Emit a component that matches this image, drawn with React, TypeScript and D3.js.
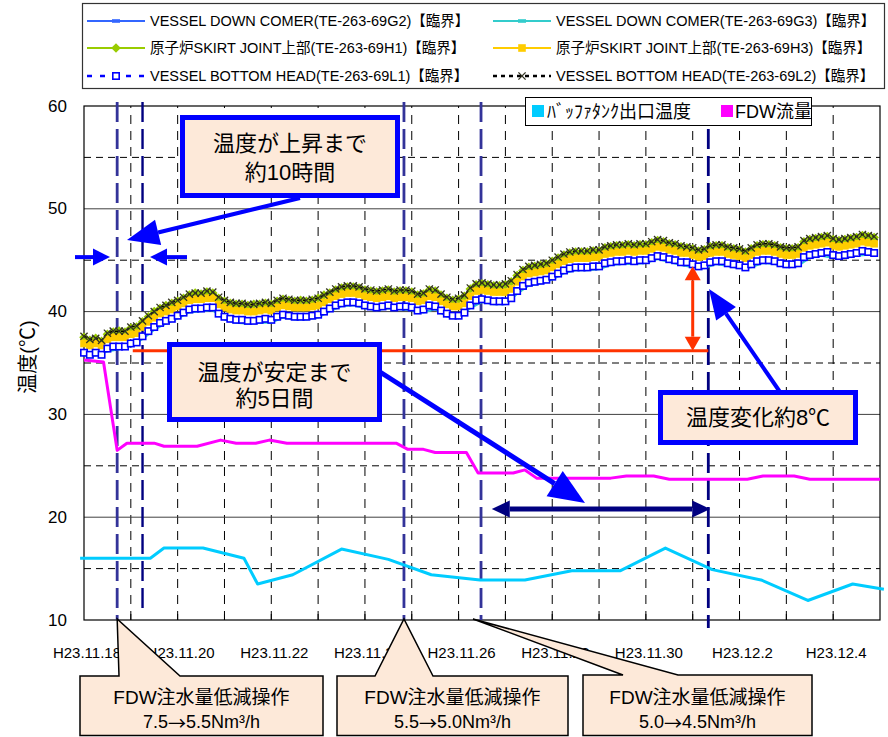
import React from "react";
import * as d3 from "d3";

const parse = d3.timeParse("%Y-%m-%d %H:%M");

// ---------- axes ----------
const X_START = "2011-11-18 00:00";
const X_END = "2011-12-05 00:00";
const Y_MIN = 10;
const Y_MAX = 60;
const yMajorTicks = [10, 20, 30, 40, 50, 60];
const yMinorTicks = [15, 25, 35, 45, 55];
const xTickDates = ["2011-11-18 00:00", "2011-11-20 00:00", "2011-11-22 00:00", "2011-11-24 00:00", "2011-11-26 00:00", "2011-11-28 00:00", "2011-11-30 00:00", "2011-12-02 00:00", "2011-12-04 00:00"];
const xTickLabels = ["H23.11.18", "H23.11.20", "H23.11.22", "H23.11.24", "H23.11.26", "H23.11.28", "H23.11.30", "H23.12.2", "H23.12.4"];
const yTitle = "温度(℃)";

// ---------- dense temperature series (every 3 hours from 11/18 0:00) ----------
const SERIES_START = "2011-11-18 00:00";
const L1 = [
  36.0, 35.8, 36.0, 35.8, 36.4, 36.6, 36.6, 36.6,
  36.9, 37.0, 37.6, 38.1, 38.5, 38.9, 39.1, 39.3,
  39.6, 39.9, 40.2, 40.3, 40.3, 40.4, 40.4, 39.8,
  39.5, 39.3, 39.2, 39.2, 39.1, 39.1, 39.2, 39.3,
  39.2, 39.5, 39.7, 39.6, 39.5, 39.5, 39.5, 39.6,
  39.7, 40.0, 40.3, 40.6, 40.8, 40.9, 40.9, 40.8,
  40.6, 40.5, 40.4, 40.5, 40.6, 40.4, 40.5, 40.5,
  40.4, 40.1, 40.2, 40.6, 40.5, 40.1, 39.8, 39.6,
  39.6, 39.9, 40.6, 41.1, 41.2, 41.1, 41.0, 41.0,
  41.0, 41.3, 42.0, 42.5, 42.8, 42.9, 43.0, 43.1,
  43.4, 43.7, 44.0, 44.2, 44.3, 44.3, 44.3, 44.4,
  44.4, 44.7, 44.8, 44.9, 44.9, 45.0, 44.9, 45.0,
  45.0, 45.2, 45.4, 45.3, 45.1, 45.0, 44.8, 44.8,
  44.6, 44.4, 44.5, 44.8, 44.9, 44.9, 44.7, 44.6,
  44.5, 44.3, 44.6, 44.9, 45.0, 45.0, 44.9, 44.7,
  44.6, 44.6, 44.7, 45.3, 45.5, 45.6, 45.7, 45.8,
  45.5, 45.4, 45.5, 45.6, 45.7, 45.9, 45.8, 45.7,
];
const H1 = [
  37.5, 37.2, 37.4, 37.1, 37.8, 38.0, 38.1, 38.0,
  38.4, 38.5, 39.0, 39.5, 40.0, 40.3, 40.6, 40.8,
  41.0, 41.3, 41.6, 41.8, 41.7, 41.9, 41.8, 41.3,
  41.0, 40.8, 40.7, 40.7, 40.6, 40.7, 40.7, 40.8,
  40.7, 41.0, 41.2, 41.1, 41.0, 41.1, 41.0, 41.1,
  41.3, 41.6, 41.8, 42.1, 42.3, 42.4, 42.4, 42.3,
  42.1, 42.0, 41.9, 42.0, 42.1, 41.9, 42.0, 42.0,
  41.9, 41.6, 41.7, 42.1, 42.0, 41.6, 41.3, 41.1,
  41.2, 41.5, 42.2, 42.6, 42.7, 42.6, 42.5, 42.5,
  42.6, 42.9, 43.5, 44.0, 44.3, 44.4, 44.5, 44.6,
  44.9, 45.2, 45.5, 45.7, 45.8, 45.8, 45.8, 45.9,
  45.9, 46.2, 46.3, 46.4, 46.4, 46.5, 46.4, 46.5,
  46.5, 46.7, 46.9, 46.8, 46.6, 46.5, 46.3, 46.2,
  46.1, 45.9, 46.0, 46.3, 46.4, 46.4, 46.2, 46.1,
  46.0, 45.8, 46.1, 46.4, 46.5, 46.5, 46.4, 46.2,
  46.1, 46.1, 46.2, 46.8, 47.0, 47.1, 47.2, 47.3,
  47.0, 46.9, 47.0, 47.1, 47.2, 47.4, 47.3, 47.2,
];
const L2 = [
  37.6, 37.3, 37.4, 37.2, 37.9, 38.1, 38.1, 38.1,
  38.5, 38.6, 39.1, 39.6, 40.0, 40.4, 40.6, 40.9,
  41.1, 41.4, 41.7, 41.8, 41.8, 42.0, 41.9, 41.4,
  41.1, 40.9, 40.8, 40.8, 40.7, 40.7, 40.8, 40.9,
  40.8, 41.1, 41.3, 41.2, 41.1, 41.1, 41.1, 41.2,
  41.3, 41.6, 41.9, 42.2, 42.4, 42.5, 42.5, 42.4,
  42.2, 42.1, 42.0, 42.1, 42.2, 42.0, 42.1, 42.1,
  42.0, 41.7, 41.8, 42.2, 42.1, 41.7, 41.4, 41.2,
  41.3, 41.6, 42.3, 42.7, 42.8, 42.7, 42.6, 42.6,
  42.7, 43.0, 43.6, 44.1, 44.4, 44.5, 44.6, 44.7,
  45.0, 45.3, 45.6, 45.8, 45.9, 45.9, 45.9, 46.0,
  46.0, 46.3, 46.4, 46.5, 46.5, 46.6, 46.5, 46.6,
  46.6, 46.8, 47.0, 46.9, 46.7, 46.6, 46.4, 46.3,
  46.2, 46.0, 46.1, 46.4, 46.5, 46.5, 46.3, 46.2,
  46.1, 45.9, 46.2, 46.5, 46.6, 46.6, 46.5, 46.3,
  46.2, 46.2, 46.3, 46.9, 47.1, 47.2, 47.3, 47.4,
  47.1, 47.0, 47.1, 47.2, 47.3, 47.5, 47.4, 47.3,
];
const H3 = [
  36.9, 36.7, 36.9, 36.7, 37.3, 37.5, 37.5, 37.5,
  37.8, 37.9, 38.5, 39.0, 39.4, 39.8, 40.0, 40.2,
  40.5, 40.8, 41.1, 41.2, 41.2, 41.3, 41.3, 40.7,
  40.4, 40.2, 40.1, 40.1, 40.0, 40.0, 40.1, 40.2,
  40.1, 40.4, 40.6, 40.5, 40.4, 40.4, 40.4, 40.5,
  40.6, 40.9, 41.2, 41.5, 41.7, 41.8, 41.8, 41.7,
  41.5, 41.4, 41.3, 41.4, 41.5, 41.3, 41.4, 41.4,
  41.3, 41.0, 41.1, 41.5, 41.4, 41.0, 40.7, 40.5,
  40.5, 40.8, 41.5, 42.0, 42.1, 42.0, 41.9, 41.9,
  41.9, 42.2, 42.9, 43.4, 43.7, 43.8, 43.9, 44.0,
  44.3, 44.6, 44.9, 45.1, 45.2, 45.2, 45.2, 45.3,
  45.3, 45.6, 45.7, 45.8, 45.8, 45.9, 45.8, 45.9,
  45.9, 46.1, 46.3, 46.2, 46.0, 45.9, 45.7, 45.7,
  45.5, 45.3, 45.4, 45.7, 45.8, 45.8, 45.6, 45.5,
  45.4, 45.2, 45.5, 45.8, 45.9, 45.9, 45.8, 45.6,
  45.5, 45.5, 45.6, 46.2, 46.4, 46.5, 46.6, 46.7,
  46.4, 46.3, 46.4, 46.5, 46.6, 46.8, 46.7, 46.6,
];
// every 6 hours from 11/18 0:00
const G3 = [
  35.7, 35.7, 36.1, 36.3, 36.6, 37.3, 38.2, 38.8,
  39.3, 39.9, 40.0, 40.1, 39.2, 38.9, 38.8, 38.9,
  38.9, 39.4, 39.2, 39.2, 39.4, 40.0, 40.5, 40.6,
  40.3, 40.1, 40.3, 40.2, 40.1, 39.9, 40.2, 39.5,
  39.3, 40.3, 40.9, 40.7, 40.7, 41.7, 42.5, 42.7,
  43.1, 43.7, 44.0, 44.0, 44.1, 44.5, 44.6, 44.6,
  44.7, 45.1, 44.8, 44.5, 44.3, 44.2, 44.6, 44.4,
  44.2, 44.3, 44.7, 44.6, 44.3, 44.4, 45.2, 45.4,
  45.2, 45.2, 45.4, 45.5,
];
const G2 = [
  35.8, 35.8, 36.2, 36.4, 36.7, 37.4, 38.3, 38.9,
  39.4, 40.0, 40.1, 40.2, 39.3, 39.0, 38.9, 39.0,
  39.0, 39.5, 39.3, 39.3, 39.5, 40.1, 40.6, 40.7,
  40.4, 40.2, 40.4, 40.3, 40.2, 40.0, 40.3, 39.6,
  39.4, 40.4, 41.0, 40.8, 40.8, 41.8, 42.6, 42.8,
  43.2, 43.8, 44.1, 44.1, 44.2, 44.6, 44.7, 44.7,
  44.8, 45.2, 44.9, 44.6, 44.4, 44.3, 44.7, 44.5,
  44.3, 44.4, 44.8, 44.7, 44.4, 44.5, 45.3, 45.5,
  45.3, 45.3, 45.5, 45.6,
];

// ---------- buffer tank outlet temperature ----------
const bufTimes = ["2011-11-17 22:00", "2011-11-19 10:00", "2011-11-19 17:00", "2011-11-20 13:00", "2011-11-21 10:00", "2011-11-21 17:00", "2011-11-22 11:00", "2011-11-23 12:00", "2011-11-24 12:00", "2011-11-25 10:00", "2011-11-26 11:00", "2011-11-27 10:00", "2011-11-28 10:00", "2011-11-29 11:00", "2011-11-30 10:00", "2011-12-01 10:00", "2011-12-02 11:00", "2011-12-03 11:00", "2011-12-04 10:00", "2011-12-05 02:00"];
const bufValues = [16.0, 16.0, 17.0, 17.0, 16.0, 13.5, 14.4, 16.9, 15.9, 14.4, 13.9, 13.9, 14.8, 14.8, 17.0, 14.9, 13.9, 11.9, 13.5, 13.0];

// ---------- FDW flow ----------
const fdwTimes = ["2011-11-18 00:00", "2011-11-18 10:00", "2011-11-18 17:00", "2011-11-18 22:00", "2011-11-19 12:00", "2011-11-19 17:00", "2011-11-20 10:00", "2011-11-20 22:00", "2011-11-21 06:00", "2011-11-21 16:00", "2011-11-21 23:00", "2011-11-22 08:00", "2011-11-24 16:00", "2011-11-24 22:00", "2011-11-25 06:00", "2011-11-25 12:00", "2011-11-26 04:00", "2011-11-26 10:00", "2011-11-27 04:00", "2011-11-27 10:00", "2011-11-27 16:00", "2011-11-29 06:00", "2011-11-29 14:00", "2011-11-30 04:00", "2011-11-30 12:00", "2011-12-02 04:00", "2011-12-02 12:00", "2011-12-03 04:00", "2011-12-03 12:00", "2011-12-05 00:00"];
const fdwValues = [35.3, 35.1, 26.5, 27.2, 27.2, 26.9, 26.9, 27.5, 27.2, 27.2, 27.5, 27.2, 27.2, 26.6, 26.6, 26.3, 26.3, 24.3, 24.3, 24.6, 23.8, 23.8, 24.0, 24.0, 23.7, 23.7, 24.0, 24.0, 23.7, 23.7];

// ---------- legends & annotations ----------
const legendNames = [
  "VESSEL DOWN COMER(TE-263-69G2)【臨界】",
  "VESSEL DOWN COMER(TE-263-69G3)【臨界】",
  "原子炉SKIRT JOINT上部(TE-263-69H1)【臨界】",
  "原子炉SKIRT JOINT上部(TE-263-69H3)【臨界】",
  "VESSEL BOTTOM HEAD(TE-263-69L1)【臨界】",
  "VESSEL BOTTOM HEAD(TE-263-69L2)【臨界】",
];
const legend2Names = ["ﾊﾞｯﾌｧﾀﾝｸ出口温度", "FDW流量"];
const eventTimes = ["2011-11-18 17:00", "2011-11-19 06:00", "2011-11-24 20:00", "2011-11-26 11:30", "2011-12-01 08:00"];
const redLevel = 36.2;
const redTop = 44.4;
const redStart = "2011-11-19 01:00";
const redArrowTime = "2011-12-01 00:00";
const navyLevel = 20.8;
const navyStart = "2011-11-26 17:00";
const navyEnd = "2011-12-01 09:00";
const riseLevel = 45.3;
const box1Lines = ["温度が上昇まで", "約10時間"];
const box2Lines = ["温度が安定まで", "約5日間"];
const box3Text = "温度変化約8℃";
const opTitle = "FDW注水量低減操作";
const opFrom = ["7.5", "5.5", "5.0"];
const opTo = ["5.5", "5.0", "4.5"];
const opUnit = "Nm³/h";

const FONT = "'Liberation Sans', 'Noto Sans CJK JP', sans-serif";
const CJK = "'Noto Sans CJK JP', sans-serif";

function arrowHead(x1: number, y1: number, x2: number, y2: number, len: number, wid: number) {
  const a = Math.atan2(y2 - y1, x2 - x1);
  const bx = x2 - len * Math.cos(a);
  const by = y2 - len * Math.sin(a);
  const px = (-Math.sin(a) * wid) / 2;
  const py = (Math.cos(a) * wid) / 2;
  return { bx, by, pts: `${x2},${y2} ${bx + px},${by + py} ${bx - px},${by - py}` };
}

function Arrow({ x1, y1, x2, y2, color, sw, len, wid, both = false }: any) {
  const h2 = arrowHead(x1, y1, x2, y2, len, wid);
  const h1 = both ? arrowHead(x2, y2, x1, y1, len, wid) : null;
  const sx = h1 ? h1.bx : x1;
  const sy = h1 ? h1.by : y1;
  return (
    <g>
      <line x1={sx} y1={sy} x2={h2.bx} y2={h2.by} stroke={color} strokeWidth={sw} />
      <polygon points={h2.pts} fill={color} />
      {h1 && <polygon points={h1.pts} fill={color} />}
    </g>
  );
}

function Marker({ kind, x, y }: { kind: string; x: number; y: number }) {
  if (kind === "diamond")
    return <polygon points={`${x},${y - 4.8} ${x + 4.8},${y} ${x},${y + 4.8} ${x - 4.8},${y}`} fill="#99CC00" />;
  if (kind === "gold") return <rect x={x - 3.8} y={y - 3.8} width={7.6} height={7.6} fill="#FFCC00" />;
  if (kind === "white")
    return <rect x={x - 3.2} y={y - 3.2} width={6.4} height={6.4} fill="#fff" stroke="#0000FF" strokeWidth={1.6} />;
  if (kind === "x")
    return (
      <g stroke="#333322" strokeWidth={1.3}>
        <line x1={x - 3.6} y1={y - 3.6} x2={x + 3.6} y2={y + 3.6} />
        <line x1={x - 3.6} y1={y + 3.6} x2={x + 3.6} y2={y - 3.6} />
      </g>
    );
  if (kind === "dash") return <rect x={x - 4} y={y - 1.8} width={8} height={3.6} fill="currentColor" />;
  return null;
}

export default function App() {
  const left = 84, right = 880, top = 106, bottom = 620;
  const x = d3.scaleTime().domain([parse(X_START)!, parse(X_END)!]).range([left, right]);
  const y = d3.scaleLinear().domain([Y_MIN, Y_MAX]).range([bottom, top]);
  const t0 = parse(SERIES_START)!;
  const pts3 = (arr: number[]) => arr.map((v, i) => [d3.timeHour.offset(t0, i * 3), v] as [Date, number]);
  const pts6 = (arr: number[]) => arr.map((v, i) => [d3.timeHour.offset(t0, i * 6), v] as [Date, number]);
  const ptsT = (ts: string[], vs: number[]) => ts.map((t, i) => [parse(t)!, vs[i]] as [Date, number]);
  const line = d3.line<[Date, number]>().x((d) => x(d[0])).y((d) => y(d[1]));

  const days = d3.timeDay.range(d3.timeDay.offset(parse(X_START)!, 1), parse(X_END)!);

  const dense = [
    { data: pts6(G2), color: "#3366FF", dash: undefined, marker: null },
    { data: pts6(G3), color: "#33CCCC", dash: undefined, marker: null },
    { data: pts3(H1), color: "#99CC00", dash: undefined, marker: "diamond" },
    { data: pts3(H3), color: "#FFCC00", dash: undefined, marker: "gold" },
    { data: pts3(L1), color: "#0000FF", dash: "3,3", marker: "white" },
    { data: pts3(L2), color: "#000000", dash: "3,3", marker: "x" },
  ];

  const ev = eventTimes.map((t) => x(parse(t)!));
  const evStyle = [
    { c: "#333399", w: 2.8, y2: bottom },
    { c: "#000080", w: 2.4, y2: 612 },
    { c: "#333399", w: 2.8, y2: bottom },
    { c: "#333399", w: 2.8, y2: bottom },
    { c: "#000080", w: 2.8, y2: 628 },
  ];

  // legend layout
  const legCols = [87, 493];
  const legRows = [21, 48, 76];
  const legSamples = [
    { color: "#3366FF", dash: undefined, marker: "dash" },
    { color: "#33CCCC", dash: undefined, marker: "dash" },
    { color: "#99CC00", dash: undefined, marker: "diamond" },
    { color: "#FFCC00", dash: undefined, marker: "gold" },
    { color: "#0000FF", dash: "5,8", marker: "white" },
    { color: "#000000", dash: "4,4", marker: "x" },
  ];

  const boxFill = "#FDE9D9";
  const opBoxes = [
    { x0: 80, x1: 323, y0: 676, b0: 119, b1: 180, tip: ev[0], tipY: 619 },
    { x0: 337, x1: 568, y0: 676, b0: 375, b1: 433, tip: ev[2], tipY: 619 },
    { x0: 583, x1: 812, y0: 675, b0: 623, b1: 678, tip: ev[3] - 8, tipY: 619 },
  ];
  const yBot = 735.5;

  const y45 = y(riseLevel);

  return (
    <svg width={888} height={737} style={{ position: "absolute", left: 0, top: 0, background: "#fff" }} fontFamily={FONT}>
      <rect x={0} y={0} width={888} height={737} fill="#fff" />

      {/* top legend */}
      <rect x={82.5} y={3.5} width={802} height={85} fill="#fff" stroke="#333" strokeWidth={1.2} />
      {legendNames.map((name, i) => {
        const cx = legCols[i % 2];
        const cy = legRows[Math.floor(i / 2)];
        const s = legSamples[i];
        return (
          <g key={name}>
            <line x1={cx} x2={cx + 58} y1={cy} y2={cy} stroke={s.color} strokeWidth={s.dash ? 2.5 : 1.8} strokeDasharray={s.dash} />
            <g color={s.color}>
              <Marker kind={s.marker} x={cx + 29} y={cy} />
            </g>
            <text x={cx + 63} y={cy} dominantBaseline="central" fontSize={14.5} fill="#000">
              {name}
            </text>
          </g>
        );
      })}

      {/* gridlines */}
      {days.map((d, i) => (
        <line key={"vd" + i} x1={x(d)} x2={x(d)} y1={bottom} y2={top} stroke="#000" strokeWidth={1} strokeDasharray="9,7" />
      ))}
      {yMinorTicks.map((v) => (
        <line key={"hm" + v} x1={left} x2={right} y1={y(v)} y2={y(v)} stroke="#000" strokeWidth={1} strokeDasharray="7,5" />
      ))}
      {yMajorTicks.filter((v) => v !== Y_MIN && v !== Y_MAX).map((v) => (
        <line key={"hM" + v} x1={left} x2={right} y1={y(v)} y2={y(v)} stroke="#404040" strokeWidth={1} />
      ))}
      {days.map((d, i) => (
        <line key={"tk" + i} x1={x(d)} x2={x(d)} y1={bottom} y2={bottom - 6} stroke="#000" strokeWidth={1} />
      ))}
      <rect x={left} y={top} width={right - left} height={bottom - top} fill="none" stroke="#000" strokeWidth={1.2} />

      {/* axis labels */}
      {yMajorTicks.map((v) => (
        <text key={"yl" + v} x={67} y={y(v)} textAnchor="end" dominantBaseline="central" fontSize={17} fill="#000">
          {v}
        </text>
      ))}
      {xTickDates.map((d, i) => (
        <text key={"xl" + i} x={x(parse(d)!) + 3} y={652} textAnchor="middle" dominantBaseline="central" fontSize={15} fill="#000">
          {xTickLabels[i]}
        </text>
      ))}
      <text transform={`translate(28,357) rotate(-90)`} textAnchor="middle" dominantBaseline="central" fontSize={20} fill="#000">
        {yTitle}
      </text>

      {/* event lines */}
      {ev.map((ex, i) => (
        <line key={"ev" + i} x1={ex} x2={ex} y1={top - 4} y2={evStyle[i].y2} stroke={evStyle[i].c} strokeWidth={evStyle[i].w} strokeDasharray="20,7" />
      ))}

      {/* flow and buffer tank lines */}
      <path d={line(ptsT(fdwTimes, fdwValues))!} fill="none" stroke="#FF00FF" strokeWidth={3} strokeLinejoin="round" />
      <path d={line(ptsT(bufTimes, bufValues))!} fill="none" stroke="#00CCFF" strokeWidth={3} strokeLinejoin="round" />

      {/* dense temperature series */}
      {dense.map((s, si) => (
        <g key={"s" + si}>
          <path d={line(s.data)!} fill="none" stroke={s.color} strokeWidth={1.5} strokeDasharray={s.dash} />
          {s.marker && s.data.map((p, i) => <Marker key={i} kind={s.marker as string} x={x(p[0])} y={y(p[1])} />)}
        </g>
      ))}

      {/* red level line and arrow */}
      <line x1={x(parse(redStart)!)} x2={ev[4]} y1={y(redLevel)} y2={y(redLevel)} stroke="#FF3300" strokeWidth={3} />
      <Arrow x1={x(parse(redArrowTime)!)} y1={y(redLevel)} x2={x(parse(redArrowTime)!)} y2={y(redTop)} color="#FF3300" sw={3} len={14} wid={16} both />

      {/* navy double arrow */}
      <Arrow x1={x(parse(navyStart)!)} y1={y(navyLevel)} x2={x(parse(navyEnd)!)} y2={y(navyLevel)} color="#000080" sw={5} len={18} wid={17} both />

      {/* blue arrows */}
      <Arrow x1={75} y1={y45} x2={110} y2={y45} color="#0000FF" sw={4} len={17} wid={17} />
      <Arrow x1={187} y1={y45} x2={150} y2={y45} color="#0000FF" sw={4} len={17} wid={17} />
      <Arrow x1={300} y1={198} x2={127} y2={240} color="#0000FF" sw={4} len={32} wid={26} />
      <Arrow x1={380} y1={372} x2={585} y2={503} color="#0000FF" sw={5} len={36} wid={30} />
      <Arrow x1={780} y1={392} x2={709} y2={289} color="#0000FF" sw={4} len={30} wid={24} />

      {/* second legend */}
      <rect x={525.5} y={97.5} width={286} height={28} fill="#fff" stroke="#000" strokeWidth={1} />
      <rect x={532} y={105} width={12} height={12} fill="#00CCFF" />
      <text x={547} y={112} dominantBaseline="central" fontSize={18} fill="#000">
        {legend2Names[0]}
      </text>
      <rect x={721} y={105} width={12} height={12} fill="#FF00FF" />
      <text x={735} y={112} dominantBaseline="central" fontSize={18} fill="#000">
        {legend2Names[1]}
      </text>

      {/* blue-framed boxes */}
      <rect x={182.5} y={117.5} width={215} height={78} fill={boxFill} stroke="#0000FF" strokeWidth={5} />
      <text x={290} y={143} textAnchor="middle" dominantBaseline="central" fontSize={22} fill="#000">{box1Lines[0]}</text>
      <text x={290} y={172} textAnchor="middle" dominantBaseline="central" fontSize={22} fill="#000">{box1Lines[1]}</text>

      <rect x={169.5} y={344.5} width={210} height={75} fill={boxFill} stroke="#0000FF" strokeWidth={5} />
      <text x={274.5} y={372} textAnchor="middle" dominantBaseline="central" fontSize={22} fill="#000">{box2Lines[0]}</text>
      <text x={274.5} y={398} textAnchor="middle" dominantBaseline="central" fontSize={22} fill="#000">{box2Lines[1]}</text>

      <rect x={660.5} y={392.5} width={195} height={50} fill={boxFill} stroke="#0000FF" strokeWidth={5} />
      <text x={758} y={417} textAnchor="middle" dominantBaseline="central" fontSize={22} fill="#000">{box3Text}</text>

      {/* operation callouts */}
      {opBoxes.map((b, i) => (
        <g key={"op" + i}>
          <path
            d={`M${b.x0},${b.y0} L${b.b0},${b.y0} L${b.tip},${b.tipY} L${b.b1},${b.y0} L${b.x1},${b.y0} L${b.x1},${yBot} L${b.x0},${yBot} Z`}
            fill={boxFill}
            stroke="#000"
            strokeWidth={1.5}
            strokeLinejoin="miter"
          />
          <text x={(b.x0 + b.x1) / 2} y={697} textAnchor="middle" dominantBaseline="central" fontSize={19} fill="#000">
            {opTitle}
          </text>
          <text x={(b.x0 + b.x1) / 2} y={722} textAnchor="middle" dominantBaseline="central" fontSize={18} fill="#000">
            {opFrom[i]}
            <tspan fontFamily={CJK}>→</tspan>
            {opTo[i] + opUnit}
          </text>
        </g>
      ))}
    </svg>
  );
}
